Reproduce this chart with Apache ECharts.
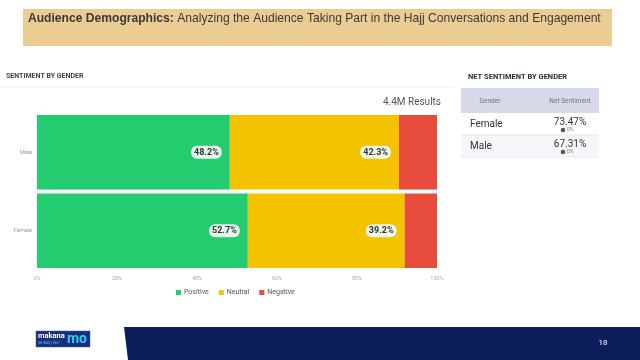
<!DOCTYPE html>
<html><head><meta charset="utf-8">
<script src="https://cdn.jsdelivr.net/npm/echarts@6/dist/echarts.min.js"></script>
<style>html,body{margin:0;padding:0;background:#fff}#c{width:640px;height:360px}</style>
</head><body><div id="c"></div>
<script>
const categories = ['Male', 'Female'];
const positive = [48.2, 52.7];
const neutral = [42.3, 39.2];
const negative = [9.5, 8.1];
const xTicks = ['0%', '20%', '40%', '60%', '80%', '100%'];
const tableGender = ['Female', 'Male'];
const tableNet = ['73.47%', '67.31%'];
const tableChange = ['0%', '0%'];

const chart = echarts.init(document.getElementById('c'), null, {renderer: 'canvas'});
const F = 'Roboto, "Liberation Sans", sans-serif';
const lbl = {
  show: true, position: 'insideRight', offset: [-3, 0],
  formatter: p => p.value.toFixed(1) + '%',
  color: '#333', fontSize: 9, fontWeight: 'bold', fontFamily: F,
  backgroundColor: 'rgba(240,250,244,0.95)', borderRadius: 6, padding: [2, 3]
};
const graphics = [
  {type: 'rect', shape: {x: 23, y: 9, width: 589, height: 37}, style: {fill: '#EBCD94'}},
  {type: 'text', x: 28, y: 13, style: {rich: {b: {fontWeight: 'bold', fontSize: 12.1, fill: '#3a3a3a', fontFamily: '"Liberation Sans", Arial'}, n: {fontSize: 12.1, fill: '#3a3a3a', fontFamily: '"Liberation Sans", Arial'}}, text: '{b|Audience Demographics:}{n| Analyzing the Audience Taking Part in the Hajj Conversations and Engagement}'}},
  {type: 'text', x: 6, y: 73, style: {text: 'SENTIMENT BY GENDER', fontSize: 7, fontWeight: 'bold', fill: '#3c4654', fontFamily: F}},
  {type: 'line', shape: {x1: 0, y1: 87, x2: 455, y2: 87}, style: {stroke: '#eeeeee', lineWidth: 1}},
  {type: 'text', x: 441, y: 97, style: {text: '4.4M Results', fontSize: 10, fill: '#555', align: 'right', fontFamily: F}},
  {type: 'text', x: 468, y: 73, style: {text: 'NET SENTIMENT BY GENDER', fontSize: 7.5, fontWeight: 'bold', fill: '#2a2f3a', fontFamily: F}},
  {type: 'rect', shape: {x: 461, y: 88, width: 138, height: 25}, style: {fill: '#D5D9E8'}},
  {type: 'text', x: 490, y: 101, style: {text: 'Gender', fontSize: 6.5, fill: '#777', align: 'center', verticalAlign: 'middle', fontFamily: F}},
  {type: 'text', x: 570, y: 101, style: {text: 'Net Sentiment', fontSize: 6.5, fill: '#777', align: 'center', verticalAlign: 'middle', fontFamily: F}},
  {type: 'rect', shape: {x: 461, y: 135, width: 138, height: 22}, style: {fill: '#F6F7FA'}},
  {type: 'line', shape: {x1: 461, y1: 135, x2: 599, y2: 135}, style: {stroke: '#e6e8ee', lineWidth: 1}},
  {type: 'line', shape: {x1: 461, y1: 157, x2: 599, y2: 157}, style: {stroke: '#e6e8ee', lineWidth: 1}},
  {type: 'polygon', shape: {points: [[124, 327], [640, 327], [640, 360], [128, 360]]}, style: {fill: '#0B1E5B'}},
  {type: 'text', x: 603, y: 343, style: {text: '18', fontSize: 8, fill: '#fff', align: 'center', verticalAlign: 'middle', fontFamily: F}},
  {type: 'rect', shape: {x: 36, y: 331, width: 54, height: 16}, style: {fill: '#1A2E7A', stroke: '#3a5bb0', lineWidth: 0.5}},
  {type: 'text', x: 38, y: 332, style: {text: 'makana', fontSize: 7.5, fontWeight: 'bold', fill: '#fff', fontFamily: F}},
  {type: 'text', x: 38, y: 341, style: {text: '(BURAQ) 360°', fontSize: 3.5, fill: '#34D3F0', fontFamily: F}},
  {type: 'text', x: 77, y: 339, style: {text: 'mo', fontSize: 14, fontWeight: 'bold', fill: '#22D0F5', align: 'center', verticalAlign: 'middle', fontFamily: F}}
];
tableGender.forEach((g, i) => {
  const y0 = 113 + i * 22;
  graphics.push({type: 'text', x: 470, y: y0 + 11, style: {text: g, fontSize: 10, fill: '#333', verticalAlign: 'middle', fontFamily: F}});
  graphics.push({type: 'text', x: 570, y: y0 + 9, style: {text: tableNet[i], fontSize: 10, fill: '#333', align: 'center', verticalAlign: 'middle', fontFamily: F}});
  graphics.push({type: 'circle', shape: {cx: 563, cy: y0 + 17, r: 2.3}, style: {fill: '#555'}});
  graphics.push({type: 'text', x: 567, y: y0 + 17, style: {text: tableChange[i], fontSize: 5, fill: '#777', verticalAlign: 'middle', fontFamily: F}});
});
chart.setOption({
  animation: false,
  textStyle: {fontFamily: F},
  grid: {left: 37, right: 203, top: 113, bottom: 90, containLabel: false},
  legend: {data: ['Positive', 'Neutral', 'Negative'], top: 284, left: 171, itemWidth: 5, itemHeight: 5, itemGap: 10, icon: 'rect',
    textStyle: {fontSize: 7, color: '#555', padding: [0, 0, 0, -2]}},
  xAxis: {type: 'value', min: 0, max: 100, interval: 20,
    axisLabel: {fontSize: 5.5, color: '#aaa', margin: 6, formatter: v => xTicks[v / 20]},
    splitLine: {show: false}, axisLine: {show: false}, axisTick: {show: false}},
  yAxis: {type: 'category', data: categories, inverse: true,
    axisLabel: {fontSize: 5.5, color: '#999', margin: 5}, axisLine: {show: false}, axisTick: {show: false}},
  series: [
    {name: 'Positive', type: 'bar', stack: 's', data: positive, barCategoryGap: '5%', itemStyle: {color: '#23CC6F'}, label: lbl},
    {name: 'Neutral', type: 'bar', stack: 's', data: neutral, itemStyle: {color: '#F3C300'}, label: lbl},
    {name: 'Negative', type: 'bar', stack: 's', data: negative, itemStyle: {color: '#E84C3D'}}
  ],
  graphic: graphics
});
</script></body></html>
